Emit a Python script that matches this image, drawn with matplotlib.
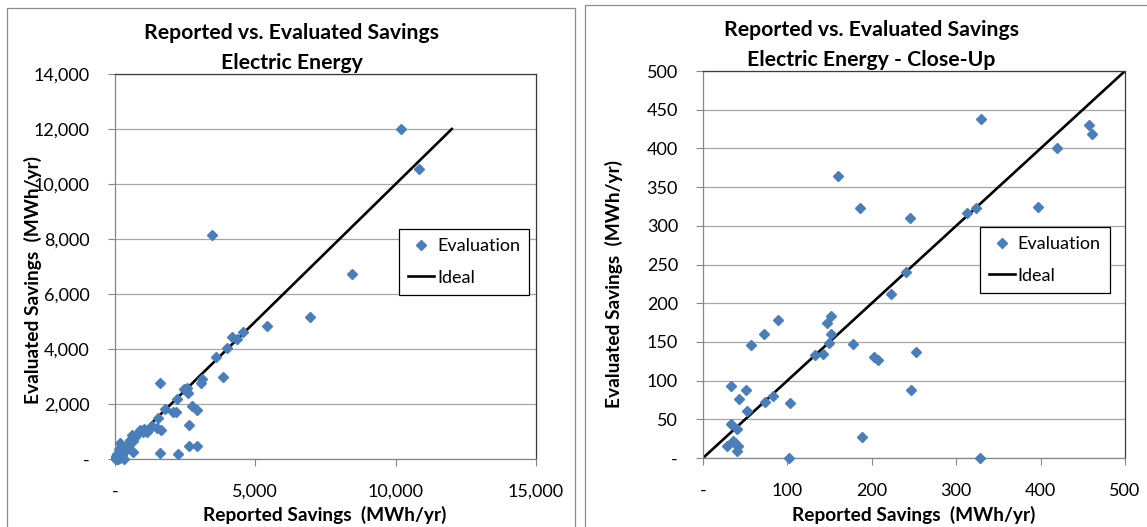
import numpy as np
import matplotlib.pyplot as plt
from matplotlib.patches import Rectangle
from matplotlib.ticker import FuncFormatter, MultipleLocator
from matplotlib.lines import Line2D

plt.rcParams['font.family'] = ['Lato', 'DejaVu Sans']

# reported vs evaluated savings per project (MWh/yr)
reported = [10200, 10830, 3460, 8440, 6950, 5410, 4570, 4350, 4170, 3990,
            3600, 3850, 3100, 3060, 1600, 2560, 2460, 2600, 2210, 1780,
            2070, 2170, 2740, 2920, 2640, 1530, 1320, 1500, 1640, 1600,
            2240, 2640, 2920, 1050, 980, 900, 1150, 1200, 820, 700,
            600, 650, 520, 450, 180, 640,
            329, 457, 461, 419, 160, 186, 397, 245, 324, 313,
            240, 223, 89, 72, 57, 152, 147, 152, 149, 178,
            133, 142, 203, 207, 252, 246, 33, 51, 43, 73,
            83, 103, 52, 33, 40, 36, 28, 41, 40, 38,
            188, 102, 328]
evaluated = [12000, 10550, 8150, 6730, 5150, 4840, 4620, 4360, 4440, 4030,
             3710, 2980, 2910, 2760, 2760, 2580, 2550, 2400, 2180, 1820,
             1710, 1710, 1930, 1780, 1240, 1490, 1200, 1130, 1050, 220,
             180, 470, 470, 1080, 1000, 1050, 1000, 1100, 960, 800,
             870, 650, 700, 550, 580, 250,
             438, 430, 419, 401, 364, 323, 324, 310, 323, 316,
             240, 212, 178, 160, 146, 183, 175, 160, 148, 147,
             133, 135, 131, 127, 137, 88, 93, 88, 76, 72,
             80, 71, 61, 44, 37, 22, 16, 16, 9, 20,
             27, 0, 0]
ideal = [0, 12000]

BLUE = '#4a7ebb'
GRID = '#a6a6a6'
W, H = 1147, 527


def fmt(v, pos):
    return '-' if v == 0 else f'{v:,.0f}'


def style(ax, xmax, xstep, ymax, ystep):
    ax.set_xlim(0, xmax)
    ax.set_ylim(0, ymax)
    ax.xaxis.set_major_locator(MultipleLocator(xstep))
    ax.yaxis.set_major_locator(MultipleLocator(ystep))
    ax.xaxis.set_major_formatter(FuncFormatter(fmt))
    ax.yaxis.set_major_formatter(FuncFormatter(fmt))
    ax.grid(axis='y', color=GRID, lw=0.9)
    ax.set_axisbelow(True)
    for s in ['top', 'right']:
        ax.spines[s].set_color('#3a3a3a')
        ax.spines[s].set_linewidth(0.9)
    for s in ['left', 'bottom']:
        ax.spines[s].set_color('#868686')
        ax.spines[s].set_linewidth(0.9)
    ax.tick_params(axis='x', length=5, color='#868686', labelsize=13, pad=13)
    ax.tick_params(axis='y', length=5, color='#868686', labelsize=13, pad=13)


def legend(ax, x, y):
    handles = [Line2D([], [], ls='none', marker='D', ms=5.4, color=BLUE),
               Line2D([], [], color='black', lw=1.9)]
    leg = ax.legend(handles, ['Evaluation', 'Ideal'], loc='upper left',
                    bbox_to_anchor=(x, y), fontsize=13, frameon=True,
                    fancybox=False, edgecolor='black', framealpha=1,
                    handlelength=1.45, handletextpad=0.15, labelspacing=0.85,
                    borderpad=0.5, borderaxespad=0)
    leg.get_frame().set_linewidth(0.9)


def titles(x, y1, line2):
    fig.text(x / W, 1 - y1 / H, 'Reported vs. Evaluated Savings', ha='center',
             va='center', fontsize=15.3, fontweight='bold')
    fig.text(x / W, 1 - (y1 + 30) / H, line2, ha='center', va='center',
             fontsize=15.3, fontweight='bold')


def axis_labels(xc, yx, yc):
    fig.text(xc / W, 1 - 515 / H, 'Reported Savings  (MWh/yr)', ha='center',
             va='center', fontsize=13.8, fontweight='bold')
    fig.text(yx / W, 1 - yc / H, 'Evaluated Savings  (MWh/yr)', ha='center',
             va='center', rotation=90, fontsize=13.8, fontweight='bold')


fig = plt.figure(figsize=(W / 100, H / 100), dpi=100)

# chart area borders
fig.add_artist(Rectangle((7 / W, -0.02), 568 / W, 1.02 - 8 / H, transform=fig.transFigure,
                         fill=False, ec='#8c8c8c', lw=0.9))
fig.add_artist(Rectangle((585 / W, -0.02), 0.6, 1.02 - 5 / H, transform=fig.transFigure,
                         fill=False, ec='#8c8c8c', lw=0.9))

rep = np.array(reported)
ev = np.array(evaluated)

# left: full range
ax1 = fig.add_axes([115 / W, 1 - 459 / H, 421 / W, 385 / H])
style(ax1, 15000, 5000, 14000, 2000)
ax1.plot(ideal, ideal, color='black', lw=1.9, zorder=2)
ax1.plot(rep, ev, ls='none', marker='D', ms=5.4, color=BLUE, clip_on=False, zorder=3)
legend(ax1, 0.675, 0.597)
titles(292, 33, 'Electric Energy')
axis_labels(325, 33, 280)

# right: close-up
ax2 = fig.add_axes([703 / W, 1 - 458 / H, 422 / W, 387 / H])
style(ax2, 500, 100, 500, 50)
ax2.plot(ideal, ideal, color='black', lw=1.9, zorder=2)
m = (rep <= 500) & (ev <= 500)
ax2.plot(rep[m], ev[m], ls='none', marker='D', ms=5.4, color=BLUE, clip_on=False, zorder=3)
legend(ax2, 0.656, 0.596)
titles(871, 30, 'Electric Energy - Close-Up')
axis_labels(914, 614, 284)

fig.savefig('out.png', dpi=100)
